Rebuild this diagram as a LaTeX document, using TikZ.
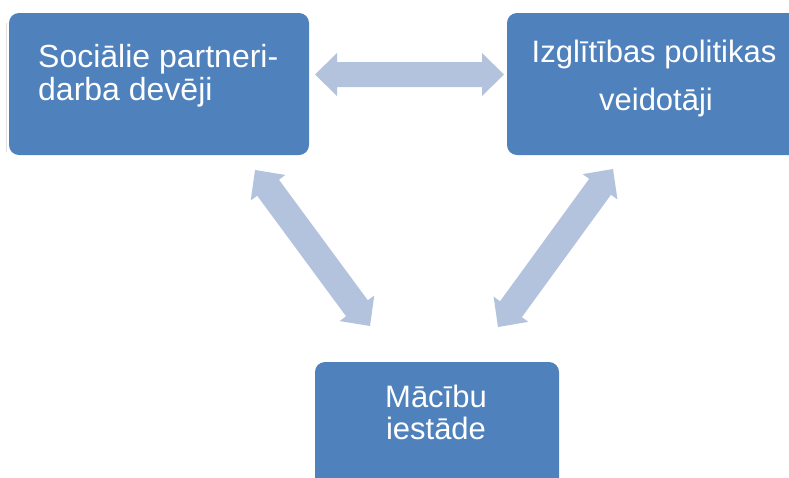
\documentclass[tikz,border=0pt]{standalone}
\usepackage{fontspec}
\setmainfont{Liberation Sans}
\usetikzlibrary{calc}
\definecolor{boxblue}{HTML}{4F81BD}
\definecolor{arrblue}{HTML}{B3C3DE}
\tikzset{
  bluebox/.style={draw=none,fill=boxblue,rounded corners=10pt},
  lbl/.style={text=white,font=\fontsize{31}{33}\selectfont,inner sep=0pt},
}
% #1,#2 end points, #3 shaft half width
\newcommand\dblarr[3]{%
  \fill[arrblue]
    (#1)
    -- ($($(#1)!22pt!(#2)$)!21.5pt!90:(#2)$)
    -- ($($(#1)!22pt!(#2)$)!#3!90:(#2)$)
    -- ($($(#2)!22pt!(#1)$)!#3!-90:(#1)$)
    -- ($($(#2)!22pt!(#1)$)!21.5pt!-90:(#1)$)
    -- (#2)
    -- ($($(#2)!22pt!(#1)$)!21.5pt!90:(#1)$)
    -- ($($(#2)!22pt!(#1)$)!#3!90:(#1)$)
    -- ($($(#1)!22pt!(#2)$)!#3!-90:(#2)$)
    -- ($($(#1)!22pt!(#2)$)!21.5pt!-90:(#2)$)
    -- cycle;}
\begin{document}
\begin{tikzpicture}[x=1pt,y=-1pt]
\useasboundingbox (0,0) rectangle (789,477);
\clip (0,0) rectangle (789,477);
\fill[white] (0,0) rectangle (789,477);
% faint edge line
\draw[black!12,line width=0.8pt] (6,23) -- (6,152);
% boxes
\path[bluebox] (9,13) rectangle (309,155);
\node[inner sep=0pt,minimum width=300pt,minimum height=142pt] (soc) at (159,84) {};
\path[bluebox] (507,13) rectangle (820,155);
\node[inner sep=0pt,minimum width=282pt,minimum height=142pt] (izg) at (648,84) {};
\path[bluebox] (315,362) rectangle (559,500);
\node[inner sep=0pt,minimum width=244pt,minimum height=115pt] (mac) at (437,419.5) {};
% texts
\node[lbl,font=\fontsize{32}{33}\selectfont,anchor=base west] (soc1) at (38,67) {Sociālie partneri-};
\node[lbl,font=\fontsize{32}{33}\selectfont,anchor=base west] (soc2) at (38,100) {darba devēji};
\node[lbl,anchor=base] (izg1) at (654,62) {Izglītības politikas};
\node[lbl,anchor=base] (izg2) at (656,110) {veidotāji};
\node[lbl,anchor=base] (mac1) at (436,407) {Mācību};
\node[lbl,anchor=base] (mac2) at (436,439) {iestāde};
% arrows
\coordinate (h1) at (315,74.5);
\coordinate (h2) at (504,74.5);
\coordinate (l1) at (255,170);
\coordinate (l2) at (370,326);
\coordinate (r1) at (613,169);
\coordinate (r2) at (498,327);
\dblarr{h1}{h2}{12.5pt}
\dblarr{l1}{l2}{13.5pt}
\dblarr{r1}{r2}{13.5pt}
\end{tikzpicture}
\end{document}
